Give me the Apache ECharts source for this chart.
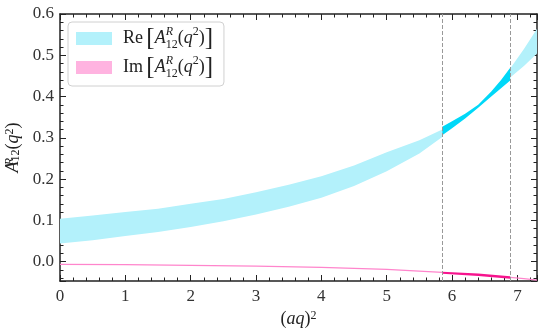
<!DOCTYPE html>
<html><head><meta charset="utf-8">
<script src="https://cdn.jsdelivr.net/npm/echarts@6/dist/echarts.min.js"></script>
<style>html,body{margin:0;padding:0;background:#fff}#c{width:545px;height:336px}</style>
</head><body><div id="c"></div>
<script>
// ---- data ----
const xTicks = [0,1,2,3,4,5,6,7];
const yTicks = [0.0,0.1,0.2,0.3,0.4,0.5,0.6];
const dashedX = [5.85, 6.89];

const xRe1 = [0,0.5,1,1.5,2,2.5,3,3.5,4,4.5,5,5.5,5.85];
const reLo1 = [0.044,0.052,0.062,0.072,0.084,0.098,0.114,0.133,0.155,0.183,0.219,0.262,0.302];
const reHi1 = [0.104,0.112,0.120,0.128,0.140,0.152,0.168,0.186,0.207,0.233,0.265,0.294,0.320];

const xRe2 = [5.85,6.0,6.2,6.4,6.6,6.75,6.89];
const reLo2 = [0.306,0.323,0.347,0.373,0.400,0.420,0.439];
const reHi2 = [0.327,0.340,0.358,0.380,0.412,0.440,0.470];

const xRe3 = [6.89,7.1,7.3];
const reLo3 = [0.446,0.474,0.504];
const reHi3 = [0.468,0.515,0.564];

const xIm1 = [0,1,2,3,4,5,5.85];
const imLo1 = [-0.008,-0.009,-0.0105,-0.0125,-0.0155,-0.0205,-0.0275];
const imHi1 = [-0.005,-0.006,-0.0075,-0.0095,-0.0125,-0.0175,-0.0245];

const xIm2 = [5.85,6.4,6.89];
const imLo2 = [-0.0295,-0.035,-0.0415];
const imHi2 = [-0.0245,-0.029,-0.0355];

const xIm3 = [6.89,7.1,7.3];
const imLo3 = [-0.0395,-0.0425,-0.0465];
const imHi3 = [-0.0365,-0.0395,-0.0435];

// ---- style ----
const FONT = 'Liberation Serif';
const C_RE = '#b3f1fb', C_RE_D = '#00d8f8';
const C_IM_L = '#ffb3e0', C_IM = '#ff85cc', C_IM_D = '#f7148e';

function band(name, xs, lo, hi, color) {
  return {
    name: name, type: 'custom', clip: true, z: 2, silent: true,
    itemStyle: { color: color },
    data: xs.map((x, i) => [x, lo[i], hi[i]]),
    renderItem: function (params, api) {
      if (params.dataIndex !== 0) return null;
      const upper = xs.map((x, i) => api.coord([x, hi[i]]));
      const lower = xs.map((x, i) => api.coord([x, lo[i]])).reverse();
      return { type: 'polygon', shape: { points: upper.concat(lower) },
        style: { fill: color, stroke: null } };
    }
  };
}

const rich = {
  rm: { fontFamily: FONT, fontSize: 18, color: '#222' },
  it: { fontFamily: FONT, fontSize: 18, fontStyle: 'italic', color: '#222' },
  br: { fontFamily: FONT, fontSize: 25, color: '#222' },
  sup: { fontFamily: FONT, fontSize: 12, fontStyle: 'italic', color: '#222', verticalAlign: 'top', lineHeight: 12, width: 0 },
  sup2: { fontFamily: FONT, fontSize: 12, color: '#222', verticalAlign: 'top', lineHeight: 12 },
  sub: { fontFamily: FONT, fontSize: 12, color: '#222', verticalAlign: 'bottom', lineHeight: 12 },
  sp: { width: 6 }
};
const AR = '{it|A}{sup|R}{sub|12}{rm|(}{it|q}{sup2|2}{rm|)}';

const axisCommon = {
  axisLine: { show: true, onZero: false, lineStyle: { color: '#222', width: 1.5 } },
  axisTick: { show: true, inside: true, length: 6, lineStyle: { color: '#222', width: 1 } },
  minorTick: { show: true, splitNumber: 5, length: 3.5, lineStyle: { color: '#222', width: 1 } },
  splitLine: { show: false }
};

const option = {
  animation: false,
  grid: { left: 60, right: 8, top: 14, bottom: 55, containLabel: false, outerBoundsMode: 'none' },
  legend: {
    orient: 'vertical', left: 68, top: 22,
    padding: [4, 11, 6, 8], itemGap: 4, itemWidth: 36, itemHeight: 13,
    borderColor: '#d0d0d0', borderWidth: 1, borderRadius: 4, backgroundColor: 'rgba(255,255,255,0.85)',
    data: [
      { name: 'Re', icon: 'rect', itemStyle: { color: C_RE } },
      { name: 'Im', icon: 'rect', itemStyle: { color: C_IM_L } }
    ],
    formatter: n => '{sp|}{rm|' + n + '} {br|[}' + AR + '{br|]}',
    textStyle: { rich: rich }
  },
  xAxis: [
    Object.assign({ type: 'value', min: 0, max: 7.3, interval: 1, position: 'bottom',
      name: '{rm|(}{it|aq}{rm|)}{sup2|2}', nameLocation: 'middle', nameGap: 27,
      nameTextStyle: { rich: rich },
      axisLabel: { fontFamily: FONT, fontSize: 17, color: '#333', margin: 7, showMaxLabel: false,
        formatter: v => xTicks.indexOf(v) >= 0 ? String(v) : '' } }, axisCommon),
    Object.assign({ type: 'value', min: 0, max: 7.3, interval: 1, position: 'top',
      axisLabel: { show: false } }, axisCommon)
  ],
  yAxis: [
    Object.assign({ type: 'value', min: -0.047, max: 0.6, splitNumber: 6, position: 'left',
      name: AR, nameLocation: 'middle', nameGap: 31, nameRotate: 90,
      nameTextStyle: { rich: rich },
      axisLabel: { fontFamily: FONT, fontSize: 17, color: '#333', margin: 6, showMinLabel: false,
        formatter: v => { const t = yTicks.find(y => Math.abs(y - v) < 1e-9); return t === undefined ? '' : t.toFixed(1); } } }, axisCommon),
    Object.assign({ type: 'value', min: -0.047, max: 0.6, splitNumber: 6, position: 'right',
      axisLabel: { show: false } }, axisCommon)
  ],
  series: [
    band('Re', xRe1, reLo1, reHi1, C_RE),
    band('Re', xRe3, reLo3, reHi3, C_RE),
    band('Re_dark', xRe2, reLo2, reHi2, C_RE_D),
    band('Im', xIm1, imLo1, imHi1, C_IM),
    band('Im', xIm3, imLo3, imHi3, C_IM),
    band('Im_dark', xIm2, imLo2, imHi2, C_IM_D),
    { name: 'vlines', type: 'line', data: [], z: 5,
      markLine: { silent: true, symbol: 'none', label: { show: false },
        lineStyle: { color: '#999', type: [4, 2], width: 1 },
        data: dashedX.map(x => ({ xAxis: x })) } }
  ]
};
const chart = echarts.init(document.getElementById('c'), null, { renderer: 'canvas' });
chart.setOption(option);
</script></body></html>
